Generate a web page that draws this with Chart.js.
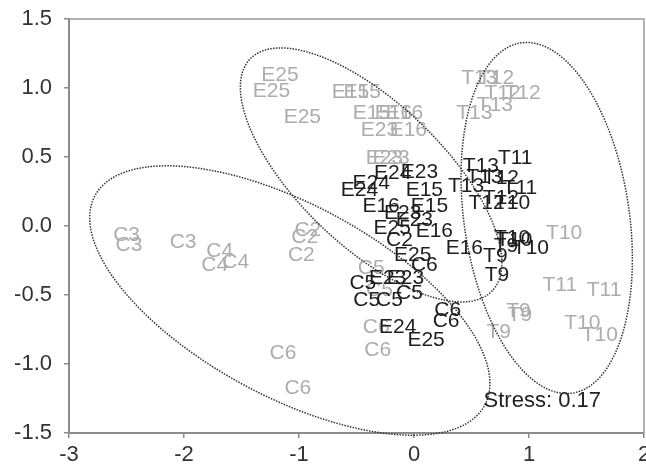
<!DOCTYPE html>
<html>
<head>
<meta charset="utf-8">
<script src="https://cdn.jsdelivr.net/npm/chart.js@4/dist/chart.umd.min.js"></script>
<style>
  body { margin: 0; background: #fff; }
  canvas { display: block; }
</style>
</head>
<body>
<canvas id="nmds" width="646" height="476"></canvas>
<script>
// grey points (first survey)
const GREY_LABELS = [
  "E25", "E25", "E25", "E15", "E15", "E15", "E16", "E16", "E23", "E16", "E23", "E23",
  "C3", "C3", "C3", "C4", "C4", "C4", "C2", "C2", "C2", "C6", "C6",
  "C5", "C5", "C6", "C6",
  "T13", "T12", "T12", "T12", "T13", "T13",
  "T10", "T11", "T11", "T9", "T9", "T9", "T10", "T10",
];
const GREY_X = [
  -1.166, -1.240, -0.971, -0.552, -0.451, -0.370, -0.179, -0.083, -0.300, -0.049, -0.257, -0.199,
  -2.499, -2.479, -2.008, -1.689, -1.733, -1.550, -0.923, -0.951, -0.980, -1.140, -1.010,
  -0.372, -0.300, -0.329, -0.315,
  0.568, 0.713, 0.770, 0.944, 0.704, 0.524,
  1.306, 1.268, 1.653, 0.909, 0.921, 0.736, 1.464, 1.615,
];
const GREY_Y = [
  1.094, 0.979, 0.786, 0.967, 0.967, 0.817, 0.817, 0.817, 0.696, 0.696, 0.491, 0.491,
  -0.065, -0.138, -0.114, -0.186, -0.283, -0.259, -0.029, -0.078, -0.210, -0.922, -1.176,
  -0.307, -0.464, -0.730, -0.899,
  1.070, 1.070, 0.962, 0.962, 0.877, 0.817,
  -0.053, -0.428, -0.464, -0.621, -0.645, -0.766, -0.705, -0.790,
];

// black points (second survey)
const BLACK_LABELS = [
  "E24", "E24", "E24", "E23", "E15", "E15", "E16", "E23", "E23", "E25", "E16",
  "C2", "E25", "C6", "E16", "E23", "E23", "C5", "C5", "C5", "C5", "C6", "C6", "E24", "E25",
  "T11", "T13", "T13", "T12", "T13", "T11", "T12", "T10", "T12",
  "T10", "T10", "T10", "T9", "T9", "T9",
];
const BLACK_X = [
  -0.474, -0.372, -0.185, 0.047, 0.090, 0.134, -0.286, -0.098, 0.003, -0.190, 0.177,
  -0.127, -0.011, 0.090, 0.438, -0.228, -0.075, -0.445, -0.411, -0.214, -0.040, 0.293, 0.279, -0.141, 0.105,
  0.880, 0.582, 0.611, 0.756, 0.452, 0.921, 0.631, 0.852, 0.756,
  0.852, 0.872, 1.017, 0.707, 0.799, 0.721,
];
const BLACK_Y = [
  0.261, 0.309, 0.382, 0.393, 0.261, 0.140, 0.140, 0.096, 0.043, -0.017, -0.041,
  -0.101, -0.210, -0.283, -0.162, -0.379, -0.379, -0.415, -0.536, -0.536, -0.488, -0.609, -0.693, -0.730, -0.826,
  0.491, 0.430, 0.357, 0.346, 0.290, 0.273, 0.164, 0.164, 0.201,
  -0.089, -0.101, -0.162, -0.222, -0.150, -0.355,
];

const X_TICKS = [-3, -2, -1, 0, 1, 2];
const Y_TICKS = [-1.5, -1.0, -0.5, 0.0, 0.5, 1.0, 1.5];
const STRESS = "Stress: 0.17";

// group ellipses: centre and two conjugate half-axes, in data units
const RINGS = [
  { cx: -1.08, cy: -0.54, ax: 1.740, ay: -0.600, bx: 0.0, by: 0.770 },
  { cx: -0.373, cy: 0.370, ax: 1.137, ay: -0.636, bx: 0.0, by: 0.665 },
  { cx: 1.154, cy: 0.058, ax: 0.745, ay: -0.296, bx: 0.0, by: 1.237 },
];

const toPoints = (xs, ys) => xs.map((x, i) => ({ x: x, y: ys[i] }));

const LABEL_FONT = "21px 'Liberation Sans', Arial, sans-serif";

const textLabels = {
  id: "textLabels",
  afterDatasetsDraw(chart) {
    const ctx = chart.ctx;
    ctx.save();
    ctx.font = LABEL_FONT;
    ctx.textAlign = "center";
    ctx.textBaseline = "middle";
    chart.data.datasets.forEach((ds, i) => {
      const meta = chart.getDatasetMeta(i);
      ctx.fillStyle = ds.textColor;
      meta.data.forEach((el, j) => {
        ctx.fillText(ds.labels[j], el.x, el.y);
      });
    });
    ctx.restore();
  },
};

const rings = {
  id: "rings",
  afterDatasetsDraw(chart) {
    const ctx = chart.ctx;
    const xs = chart.scales.x;
    const ys = chart.scales.y;
    ctx.save();
    ctx.strokeStyle = "#333";
    ctx.lineWidth = 1.5;
    ctx.setLineDash([1.5, 1.3]);
    RINGS.forEach((r) => {
      ctx.beginPath();
      for (let k = 0; k <= 360; k++) {
        const t = (k * Math.PI) / 180;
        const px = xs.getPixelForValue(r.cx + r.ax * Math.cos(t) + r.bx * Math.sin(t));
        const py = ys.getPixelForValue(r.cy + r.ay * Math.cos(t) + r.by * Math.sin(t));
        if (k === 0) ctx.moveTo(px, py);
        else ctx.lineTo(px, py);
      }
      ctx.closePath();
      ctx.stroke();
    });
    ctx.setLineDash([]);

    // stress note
    ctx.fillStyle = "#222";
    ctx.font = "22px 'Liberation Sans', Arial, sans-serif";
    ctx.textAlign = "left";
    ctx.textBaseline = "alphabetic";
    ctx.fillText(STRESS, xs.getPixelForValue(0.605), ys.getPixelForValue(-1.314));
    ctx.restore();
  },
};

// top and right sides of the box
const frame = {
  id: "frame",
  afterDraw(chart) {
    const a = chart.chartArea;
    const ctx = chart.ctx;
    ctx.save();
    ctx.strokeStyle = "#9a9a9a";
    ctx.lineWidth = 1.5;
    ctx.beginPath();
    ctx.moveTo(a.left, a.top);
    ctx.lineTo(a.right, a.top);
    ctx.lineTo(a.right, a.bottom);
    ctx.stroke();
    ctx.restore();
  },
};

const tickFont = { family: "'Liberation Sans', Arial, sans-serif", size: 22 };

new Chart("nmds", {
  type: "scatter",
  data: {
    datasets: [
      {
        label: "grey",
        data: toPoints(GREY_X, GREY_Y),
        labels: GREY_LABELS,
        textColor: "#adadad",
        pointRadius: 0,
      },
      {
        label: "black",
        data: toPoints(BLACK_X, BLACK_Y),
        labels: BLACK_LABELS,
        textColor: "#1e1e1e",
        pointRadius: 0,
      },
    ],
  },
  options: {
    responsive: false,
    animation: false,
    layout: { padding: { top: 19, right: 2, left: 0, bottom: 0 } },
    plugins: { legend: { display: false }, tooltip: { enabled: false } },
    scales: {
      x: {
        type: "linear",
        min: -3,
        max: 2,
        afterBuildTicks: (s) => { s.ticks = X_TICKS.map((v) => ({ value: v })); },
        afterFit: (s) => { s.height = 43; s.paddingLeft = 0; s.paddingRight = 0; },
        ticks: { font: tickFont, color: "#333", padding: 4, maxRotation: 0, callback: (v) => String(v) },
        grid: { drawOnChartArea: false, drawTicks: true, tickLength: 5, color: "#8c8c8c", lineWidth: 1.5 },
        border: { display: true, color: "#8c8c8c", width: 2 },
      },
      y: {
        type: "linear",
        min: -1.5,
        max: 1.5,
        afterBuildTicks: (s) => { s.ticks = Y_TICKS.map((v) => ({ value: v })); },
        afterFit: (s) => { s.width = 69; s.paddingTop = 0; s.paddingBottom = 0; },
        ticks: { font: tickFont, color: "#333", padding: 12, callback: (v) => v.toFixed(1) },
        grid: { drawOnChartArea: false, drawTicks: true, tickLength: 5, color: "#8c8c8c", lineWidth: 1.5 },
        border: { display: true, color: "#8c8c8c", width: 2 },
      },
    },
  },
  plugins: [textLabels, rings, frame],
});
</script>
</body>
</html>
